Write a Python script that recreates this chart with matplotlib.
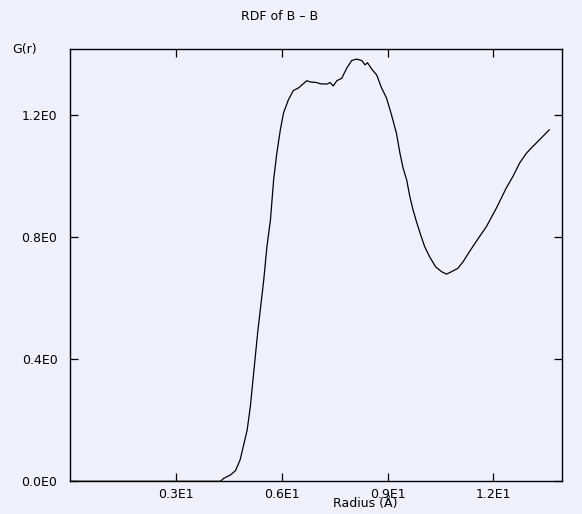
import matplotlib
matplotlib.use("Agg")
import matplotlib.pyplot as plt

# RDF data
radius = [0.05, 4.26, 4.36, 4.55, 4.69, 4.82, 4.92, 5.02, 5.11, 5.20, 5.32, 5.40, 5.49,
          5.58, 5.68, 5.77, 5.86, 5.96, 6.05, 6.19, 6.33, 6.47, 6.57, 6.71, 6.81, 6.99,
          7.09, 7.28, 7.37, 7.46, 7.56, 7.70, 7.84, 7.98, 8.12, 8.27, 8.36, 8.43, 8.55,
          8.69, 8.83, 8.97, 9.11, 9.25, 9.35, 9.44, 9.54, 9.63, 9.72, 9.82, 9.93,
          10.05, 10.19, 10.36, 10.53, 10.67, 10.81, 10.99, 11.14, 11.32, 11.51,
          11.80, 12.08, 12.36, 12.55, 12.74, 12.93, 13.11, 13.30, 13.58]
g_r = [0.0, 0.0, 0.010, 0.021, 0.035, 0.070, 0.119, 0.168, 0.245, 0.350, 0.490, 0.570, 0.660,
       0.769, 0.857, 0.988, 1.075, 1.152, 1.207, 1.251, 1.281, 1.289, 1.299, 1.313, 1.309, 1.307,
       1.303, 1.302, 1.307, 1.296, 1.313, 1.321, 1.354, 1.379, 1.384, 1.379, 1.365, 1.372, 1.351,
       1.332, 1.289, 1.256, 1.201, 1.141, 1.075, 1.026, 0.988, 0.933, 0.890, 0.850, 0.810,
       0.769, 0.736, 0.703, 0.687, 0.679, 0.687, 0.698, 0.720, 0.753, 0.786,
       0.835, 0.895, 0.961, 0.999, 1.043, 1.075, 1.097, 1.119, 1.152]

x_ticks = [3, 6, 9, 12]
x_tick_labels = ["0.3E1", "0.6E1", "0.9E1", "1.2E1"]
y_ticks = [0.0, 0.4, 0.8, 1.2]
y_tick_labels = ["0.0E0", "0.4E0", "0.8E0", "1.2E0"]

bg = "#f0f0fc"
W, H = 582, 514

fig = plt.figure(figsize=(W / 100, H / 100), dpi=100, facecolor=bg)
ax = fig.add_axes([70 / W, 1 - 481.3 / H, (562.3 - 70) / W, (481.3 - 49) / H])
ax.set_facecolor(bg)

ax.plot(radius, g_r, color="black", linewidth=0.9)

ax.set_xlim(0, 13.95)
ax.set_ylim(0, 1.417)

ax.set_xticks(x_ticks)
ax.set_xticklabels(x_tick_labels)
ax.set_yticks(y_ticks)
ax.set_yticklabels(y_tick_labels)
ax.tick_params(direction="in", length=5.5, width=0.9, labelsize=9,
               top=True, right=True)
ax.tick_params(axis="y", pad=9)
ax.tick_params(axis="x", pad=5)

for s in ax.spines.values():
    s.set_linewidth(1.0)

fig.text(280 / W, 1 - 17 / H, "RDF of B \u2013 B", ha="center", va="center", fontsize=9)
fig.text(25 / W, 1 - 50 / H, "G(r)", ha="center", va="center", fontsize=9)
fig.text(365 / W, 1 - 504 / H, "Radius (Å)", ha="center", va="center", fontsize=9)

fig.savefig("out.png", dpi=100, facecolor=bg)
